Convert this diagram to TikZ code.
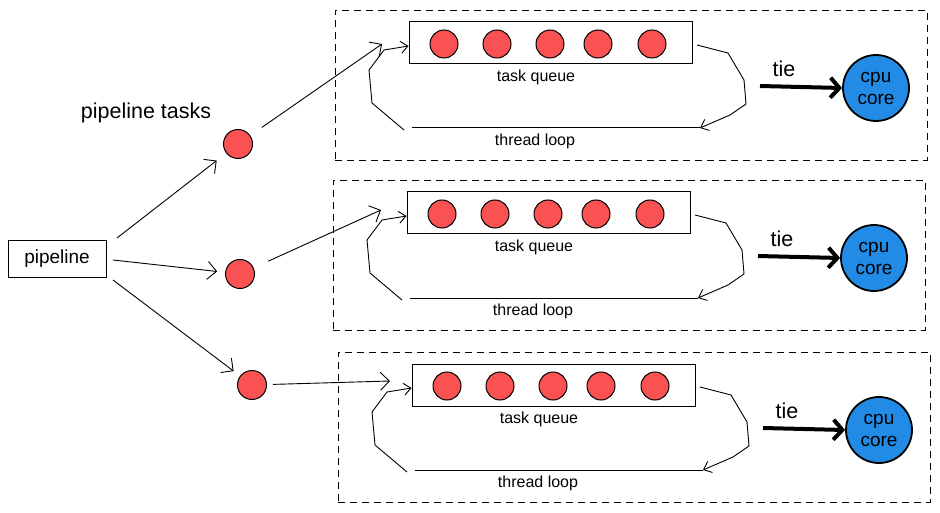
\documentclass[tikz,border=0pt]{standalone}
\usepackage{fontspec}
\setmainfont{Liberation Sans}
\usetikzlibrary{arrows.meta}
\definecolor{dotred}{HTML}{FA5252}
\definecolor{coreblue}{HTML}{228BE6}
\begin{document}
\begin{tikzpicture}[x=1pt,y=-1pt,
  redball/.style={circle, draw=black, line width=1pt, fill=dotred, minimum size=29pt, inner sep=0pt},
  lanebox/.style={draw, line width=0.9pt, dash pattern=on 7pt off 5pt},
  qbox/.style={draw, line width=1pt, minimum width=283pt, minimum height=42pt, inner sep=0pt},
  arr/.style={-{Straight Barb[length=9pt,width=18pt]}, line width=0.9pt, line join=round},
  tiearr/.style={-{Straight Barb[length=9pt,width=20pt]}, line width=4pt},
  core/.style={circle, draw=black, line width=1.8pt, fill=coreblue, minimum size=66pt, inner sep=0pt, align=center, font=\fontsize{19}{22}\selectfont},
  small/.style={font=\fontsize{16}{18}\selectfont},
  mid/.style={font=\fontsize{21.5}{24}\selectfont}]
\useasboundingbox (0,0) rectangle (940,513);

% pipeline and tasks
\node[draw, line width=1pt, minimum width=98pt, minimum height=36pt, inner sep=0pt, font=\fontsize{19}{22}\selectfont] (pipe) at (57,259) {pipeline};
\node[mid, anchor=center] (ptasks) at (146,113) {pipeline tasks};
\node[redball] (d1) at (238,144) {};
\node[redball] (d2) at (240,274) {};
\node[redball] (d3) at (252,385) {};

\coordinate (p1) at (117,238);
\coordinate (p2) at (113,260);
\coordinate (p3) at (113,280);
\draw[arr, shorten >=12pt] (p1) -- (d1);
\draw[arr, shorten >=8pt] (p2) -- (d2);
\draw[arr, shorten >=8pt] (p3) -- (d3);

% lanes
\foreach \dx/\dy/\n in {0/0/1, -2/170/2, 3/342/3} {
  \begin{scope}[shift={(\dx,\dy)}]
    \node[lanebox, minimum width=592pt, minimum height=150pt, inner sep=0pt] (lane\n) at (631,85) {};
    \node[qbox] (q\n) at (550.5,43) {};
    \foreach \x/\k in {444/a,497/b,550/c,598/d,652/e}
      \node[redball, minimum size=28pt] (q\n\k) at (\x,44) {};
    \node[small] (tq\n) at (536,77) {task queue};
    \coordinate (tl\n) at (412,128);
    \coordinate (tr\n) at (700,128);
    \draw[line width=1pt] (tl\n) -- (tr\n);
    \node[small] (loop\n) at (535,141) {thread loop};
    \coordinate (ls\n) at (404,130);
    \draw[arr, -{Straight Barb[length=7pt,width=12pt]}] (ls\n) -- (372,103) -- (369,70) -- (384,50) -- (q\n.west |- 0,46);
    \coordinate (rs\n) at (697,45);
    \draw[arr, -{Straight Barb[length=7pt,width=12pt]}] (rs\n) -- (728,53) -- (744,80) -- (746,104) -- (730,115) -- (tr\n);
    \node[mid] (tie\n) at (784,69) {tie};
    \node[core] (cpu\n) at (876,88) {cpu\\core};
    \coordinate (ts\n) at (760,86);
    \draw[tiearr] (ts\n) -- (cpu\n.west);
  \end{scope}
}

% incoming arrows to queues
\coordinate (i1) at (382,44);
\coordinate (i2) at (381,210);
\coordinate (i3) at (390,381);
\draw[arr, shorten <=14pt] (d1) -- (i1);
\draw[arr, shorten <=16pt] (d2) -- (i2);
\draw[arr, shorten <=6pt] (d3) -- (i3);
\end{tikzpicture}
\end{document}
